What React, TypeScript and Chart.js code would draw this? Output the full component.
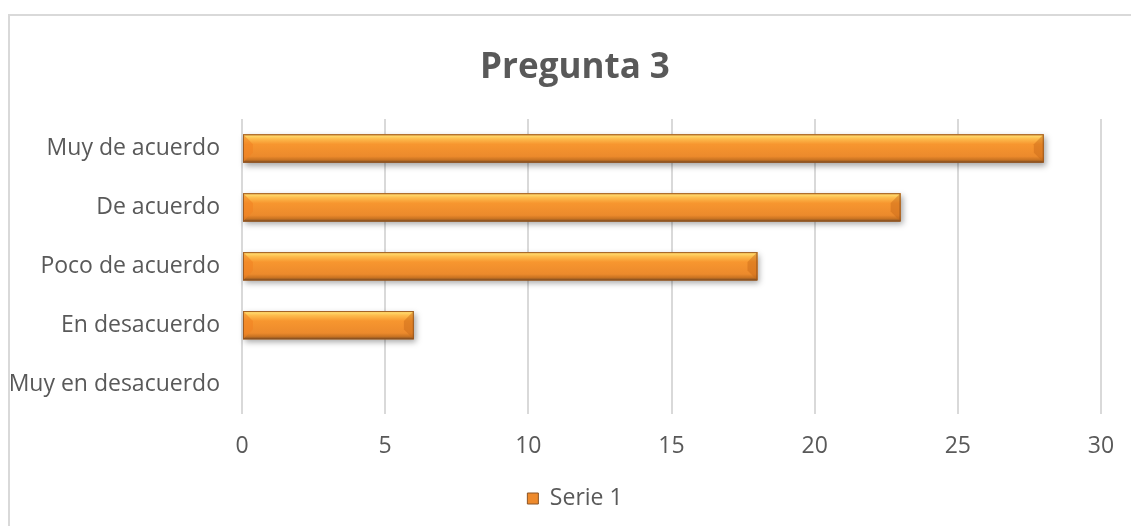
import React, { useEffect, useRef } from "react";
import { Chart, registerables } from "chart.js";

Chart.register(...registerables);

const categories = ["Muy de acuerdo", "De acuerdo", "Poco de acuerdo", "En desacuerdo", "Muy en desacuerdo"];
const serie1 = [28, 23, 18, 6, 0];
const seriesName = "Serie 1";
const titleText = "Pregunta 3";
const xMin = 0;
const xMax = 30;
const xStep = 5;

const TEXT = "#595959";
const FONT = "'Open Sans', 'DejaVu Sans', sans-serif";

const bevelPlugin = {
  id: "bevelBars",
  beforeDatasetsDraw(chart: any) {
    const ctx = chart.ctx;
    const meta = chart.getDatasetMeta(0);
    ctx.save();
    meta.data.forEach((el: any) => {
      const p = el.getProps(["x", "y", "base", "height"], true);
      const left = Math.min(p.base, p.x);
      const w = Math.abs(p.x - p.base);
      if (w < 1) return;
      const top = p.y - p.height / 2;
      ctx.shadowColor = "rgba(0,0,0,0.35)";
      ctx.shadowBlur = 6;
      ctx.shadowOffsetX = 2;
      ctx.shadowOffsetY = 3;
      ctx.fillStyle = "#E0842A";
      ctx.fillRect(left, top, w, p.height);
    });
    ctx.restore();
  },
  afterDatasetsDraw(chart: any) {
    const ctx = chart.ctx;
    const meta = chart.getDatasetMeta(0);
    ctx.save();
    meta.data.forEach((el: any) => {
      const p = el.getProps(["x", "y", "base", "height"], true);
      const left = Math.min(p.base, p.x);
      const right = Math.max(p.base, p.x);
      const w = right - left;
      if (w < 1) return;
      const top = p.y - p.height / 2;
      const bottom = p.y + p.height / 2;
      const h = p.height;
      const g = ctx.createLinearGradient(0, top, 0, bottom);
      g.addColorStop(0, "#F9A645");
      g.addColorStop(0.06, "#FFD86A");
      g.addColorStop(0.16, "#FDBB4C");
      g.addColorStop(0.35, "#F7962F");
      g.addColorStop(0.78, "#EC8A2C");
      g.addColorStop(0.9, "#C97322");
      g.addColorStop(1, "#7C4E25");
      ctx.fillStyle = g;
      ctx.fillRect(left, top, w, h);
      const b = Math.min(h * 0.35, w / 2);
      // left bevel
      ctx.beginPath();
      ctx.moveTo(left, top);
      ctx.lineTo(left + b, top + b);
      ctx.lineTo(left + b, bottom - b);
      ctx.lineTo(left, bottom);
      ctx.closePath();
      ctx.fillStyle = "rgba(240,130,35,0.55)";
      ctx.fill();
      // right bevel
      ctx.beginPath();
      ctx.moveTo(right, top);
      ctx.lineTo(right - b, top + b);
      ctx.lineTo(right - b, bottom - b);
      ctx.lineTo(right, bottom);
      ctx.closePath();
      ctx.fillStyle = "rgba(200,105,25,0.45)";
      ctx.fill();
      ctx.strokeStyle = "rgba(140,80,30,0.8)";
      ctx.lineWidth = 1;
      ctx.strokeRect(left + 0.5, top + 0.5, w - 1, h - 1);
    });
    ctx.restore();
  },
};

export default function App() {
  const ref = useRef<HTMLCanvasElement | null>(null);
  useEffect(() => {
    if (!ref.current) return;
    const chart = new Chart(ref.current, {
      type: "bar",
      data: {
        labels: categories,
        datasets: [
          {
            label: seriesName,
            data: serie1,
            backgroundColor: "#EE8A2C",
            borderColor: "#8C5424",
            borderWidth: 1,
            barPercentage: 0.48,
            categoryPercentage: 1,
          },
        ],
      },
      options: {
        indexAxis: "y",
        responsive: false,
        animation: false,
        layout: { padding: { left: 0, right: 0, top: 0, bottom: 6 } },
        scales: {
          x: {
            min: xMin,
            max: xMax,
            ticks: { stepSize: xStep, color: TEXT, font: { family: FONT, size: 23 }, padding: 19 },
            grid: { color: "#D9D9D9", lineWidth: 2, drawTicks: false },
            border: { display: false },
            afterFit(scale: any) {
              scale.height = 63.5;
            },
          },
          y: {
            ticks: { color: TEXT, font: { family: FONT, size: 23 }, padding: 22 },
            grid: { display: false, drawTicks: false },
            border: { display: false },
            afterFit(scale: any) {
              scale.width = 234;
            },
          },
          yRight: {
            type: "linear",
            axis: "y",
            position: "right",
            display: true,
            ticks: { display: false },
            grid: { display: false, drawTicks: false },
            border: { display: false },
            afterFit(scale: any) {
              scale.width = 41;
            },
          },
        },
        plugins: {
          title: {
            display: true,
            text: titleText,
            color: TEXT,
            font: { family: FONT, size: 35, weight: "bold" },
            padding: { top: 47, bottom: 30 },
          },
          legend: {
            position: "bottom",
            labels: {
              color: TEXT,
              font: { family: FONT, size: 23 },
              boxWidth: 11,
              boxHeight: 11,
              padding: 10,
            },
          },
          tooltip: { enabled: false },
        },
      },
      plugins: [bevelPlugin],
    } as any);
    return () => chart.destroy();
  }, []);
  return (
    <div style={{ position: "absolute", left: 0, top: 0, width: 1131, height: 526, overflow: "hidden", background: "#fff" }}>
      <div
        style={{
          position: "absolute",
          left: 8,
          top: 14,
          width: 1140,
          height: 540,
          border: "2px solid #D9D9D9",
          boxSizing: "border-box",
        }}
      />
      <canvas ref={ref} width={1134} height={526} style={{ position: "absolute", left: 8, top: 0 }} />
    </div>
  );
}
